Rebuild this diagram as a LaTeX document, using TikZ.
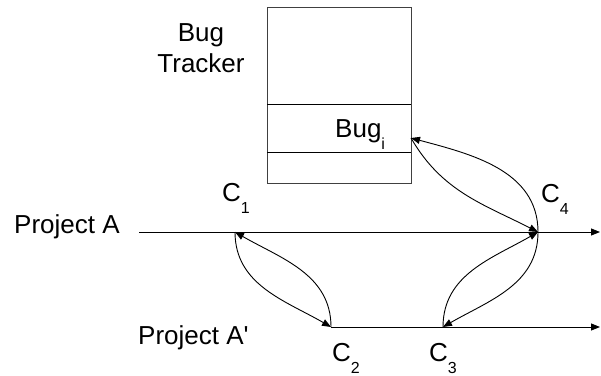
\documentclass[tikz,border=0pt]{standalone}
\usepackage{fontspec}
\setmainfont{Liberation Sans}
\usetikzlibrary{arrows.meta}
% lowered index such as C_1, Bug_i
\newcommand{\lowidx}[1]{\raisebox{-12pt}{\fontsize{16}{16}\selectfont #1}}
\begin{document}
\begin{tikzpicture}[x=1pt,y=1pt,
    txt/.style={inner sep=0pt,font=\fontsize{26}{31}\selectfont},
    wire/.style={line width=0.9pt,black},
    tip/.style={-{Triangle[length=9pt,width=7pt]}},
    link/.style={wire,tip}]
  \useasboundingbox (0,0) rectangle (601,375);

  % bug tracker table
  \draw[line width=1pt,black!75] (267,191) rectangle (411,367);
  \draw[wire] (267,271) -- (411,271);
  \draw[wire] (267,223) -- (411,223);
  \node[txt,align=center,anchor=base] (tracker) at (201,302) {Bug\\Tracker};
  \node[txt,anchor=base west] (bug) at (335,237) {Bug\lowidx{i}};
  \coordinate (bi) at (411,237);

  % commit points
  \coordinate (c1) at (235,143);
  \coordinate (c2) at (331,48);
  \coordinate (c3) at (443,48);
  \coordinate (c4) at (538,143);
  \coordinate (aend) at (600,143);
  \coordinate (astart) at (139,143);
  \coordinate (pend) at (600,48);

  % project time lines
  \node[txt,anchor=base west] (pa) at (14,142) {Project A};
  \node[txt,anchor=base west] (pb) at (138,31) {Project A\textquotesingle};
  \draw[link] (astart) -- (aend);
  \draw[link] (c2) -- (pend);

  % commit labels
  \node[txt,anchor=base west] (l1) at (222,174) {C\lowidx{1}};
  \node[txt,anchor=base west] (l2) at (332,14) {C\lowidx{2}};
  \node[txt,anchor=base west] (l3) at (429,14) {C\lowidx{3}};
  \node[txt,anchor=base west] (l4) at (541,173) {C\lowidx{4}};

  % relations between commits
  \draw[link] (c1) to[out=-90,in=150] (c2);
  \draw[link] (c2) to[out=90,in=-30] (c1);
  \draw[link] (c3) to[out=90,in=-150] (c4);
  \draw[link] (c4) to[out=-90,in=30] (c3);
  \draw[link] (bi) to[out=-60,in=153] (c4);
  \draw[link] (c4) to[out=90,in=-15] (bi);
\end{tikzpicture}
\end{document}
